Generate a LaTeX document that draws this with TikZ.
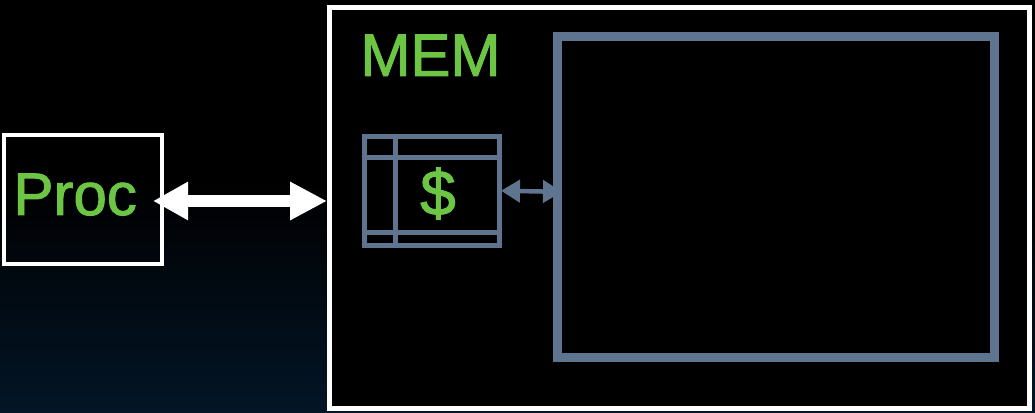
\documentclass[tikz,border=0pt]{standalone}
\usepackage{fontspec}
\setmainfont{Liberation Sans}
\usetikzlibrary{arrows.meta}
\definecolor{memgreen}{RGB}{108,198,68}
\definecolor{slate}{RGB}{94,116,143}
\definecolor{bgnavy}{RGB}{3,21,38}
\newfontfamily\heavysans[FakeBold=1.6]{Liberation Sans}
\tikzset{
  whitebox/.style={draw=white, line width=4.5pt, inner sep=0pt, outer sep=0pt, rectangle},
  slatebox/.style={draw=slate, inner sep=0pt, outer sep=0pt, rectangle},
  lbl/.style={text=memgreen, inner sep=0pt, outer sep=0pt, font=\heavysans\fontsize{60}{72}\selectfont},
  bigarrow/.style={draw=white, line width=12.5pt, {Triangle[length=35pt,width=36pt]}-{Triangle[length=37pt,width=36pt]}},
  smallarrow/.style={draw=slate, line width=4.5pt, {Triangle[length=19pt,width=22pt]}-{Triangle[length=19pt,width=22pt]}}
}
\begin{document}
\begin{tikzpicture}[x=1pt,y=1pt]
\useasboundingbox (0,0) rectangle (1035,412);
% background
\fill[black] (0,0) rectangle (1035,412);
\shade[top color=black, bottom color=bgnavy] (0,0) rectangle (1035,230);
% Proc
\node[whitebox, minimum width=158pt, minimum height=129pt] (proc) at (83,212.5) {};
\node[lbl, anchor=base west] (proctext) at (13.5,197) {Proc};
% MEM box
\node[whitebox, fill=black, minimum width=700pt, minimum height=401pt] (mem) at (679.5,204) {};
\node[lbl, anchor=base west, font=\heavysans\fontsize{60}{72}\selectfont] (memtext) at (360.5,336) {MEM};
% big memory array
\node[slatebox, line width=9pt, minimum width=437pt, minimum height=321pt] (array) at (775.5,214.5) {};
% cache
\node[slatebox, line width=4.5pt, minimum width=135pt, minimum height=109pt] (cache) at (432,221) {};
\draw[slate, line width=4.5pt] ([xshift=31pt]cache.north west) -- ([xshift=31pt]cache.south west);
\draw[slate, line width=4.5pt] ([yshift=-21pt]cache.north west) -- ([yshift=-21pt]cache.north east);
\draw[slate, line width=4.5pt] ([yshift=13pt]cache.south west) -- ([yshift=13pt]cache.south east);
\node[lbl, anchor=base, font=\heavysans\fontsize{64}{76}\selectfont] (dollar) at (438,197) {\$};
% connectors
\coordinate (procport) at ([shift={(-9pt,-1.5pt)}]proc.east);
\coordinate (memport) at ([shift={(-2.5pt,7pt)}]mem.west);
\draw[bigarrow] (procport) -- (memport);
\coordinate (cacheport) at ([shift={(1.5pt,0.3pt)}]cache.east);
\coordinate (arrayport) at ([shift={(5pt,-1.2pt)}]array.west |- cacheport);
\draw[smallarrow] (cacheport) -- (arrayport);
\end{tikzpicture}
\end{document}
